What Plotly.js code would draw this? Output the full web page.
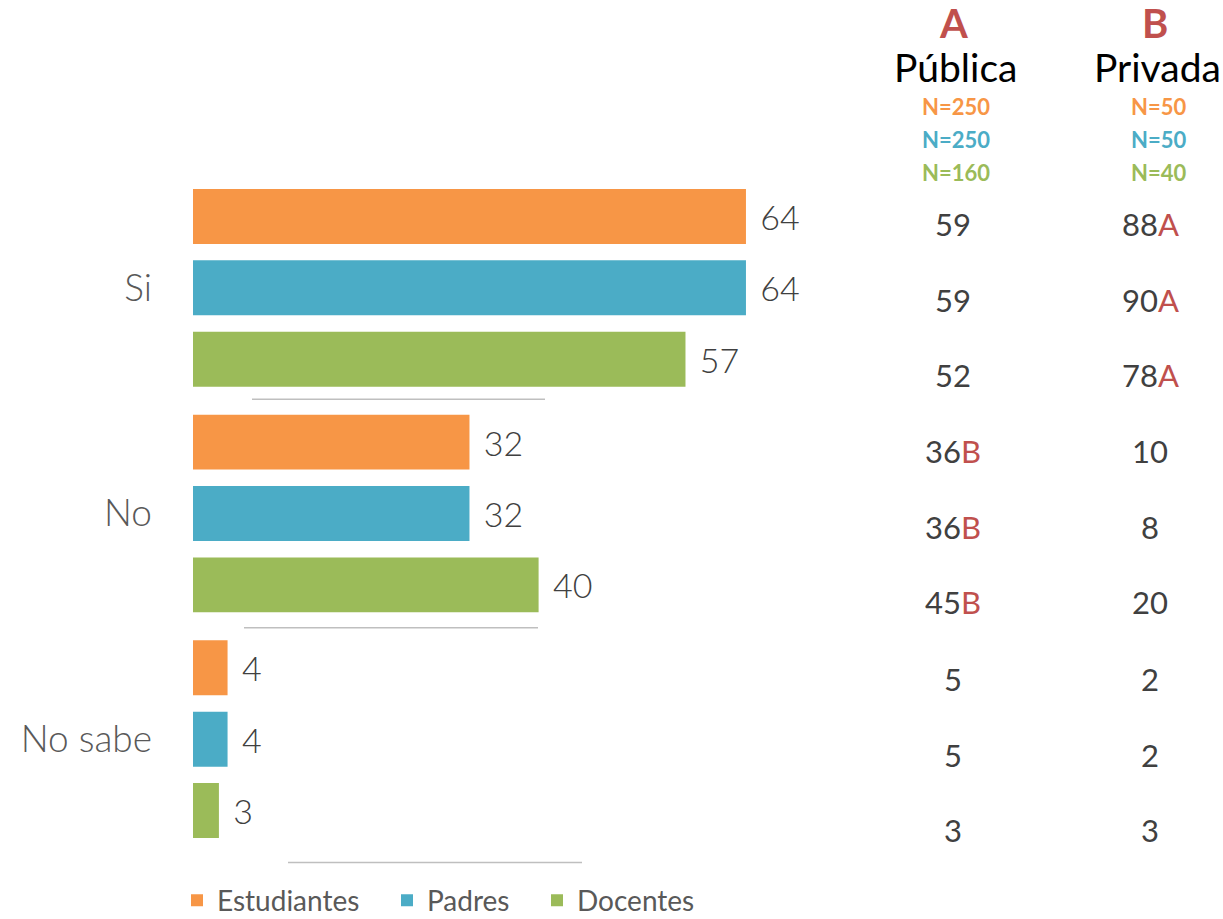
<!DOCTYPE html>
<html>
<head>
<meta charset="utf-8">
<script src="https://cdn.plot.ly/plotly-3.0.1.min.js"></script>
<style>html,body{margin:0;padding:0;background:#fff;}#chart{width:1223px;height:919px;}</style>
</head>
<body>
<div id="chart"></div>
<script>
const categories = ['Si', 'No', 'No sabe'];
const seriesNames = ['Estudiantes', 'Padres', 'Docentes'];
const estudiantes = [64, 32, 4];
const padres = [64, 32, 4];
const docentes = [57, 40, 3];
const seriesColors = ['#F79646', '#4BACC6', '#9BBB59'];

const headerLetters = ['A', 'B'];
const headerNames = ['Pública', 'Privada'];
const publicaN = ['N=250', 'N=250', 'N=160'];
const privadaN = ['N=50', 'N=50', 'N=40'];
const publicaVals = [59, 59, 52, 36, 36, 45, 5, 5, 3];
const publicaSig = ['', '', '', 'B', 'B', 'B', '', '', ''];
const privadaVals = [88, 90, 78, 10, 8, 20, 2, 2, 3];
const privadaSig = ['A', 'A', 'A', '', '', '', '', '', ''];

const W = 1223, H = 919;
const mL = 193, mR = 0, mT = 174.5, mB = 66.5;
const plotW = W - mL - mR, plotH = H - mT - mB;
const px2x = p => (p - mL) / plotW;
const py2y = p => (H - mB - p) / plotH;

const FONT = 'Lato, "Open Sans", sans-serif';
const RED = '#C0504D';

const legendIds = ['legend', 'legend2', 'legend3'];
const legendX = [177, 387, 537];

const allSeries = [estudiantes, padres, docentes];
const traces = allSeries.map((vals, i) => ({
  type: 'bar',
  orientation: 'h',
  name: seriesNames[i],
  legend: legendIds[i],
  y: categories,
  x: vals,
  marker: {color: seriesColors[i]},
  text: vals.map(v => '\u00a0\u200a' + v),
  textposition: 'outside',
  cliponaxis: false,
  textfont: {family: FONT, size: 34, color: '#404040', weight: 300},
  hoverinfo: 'none'
}));

const annotations = [];
const colX = [953, 1150];
const headX = [955, 1157];
headerLetters.forEach((l, i) => {
  annotations.push({xref: 'paper', yref: 'paper', x: px2x(headX[i] - 2), y: py2y(22),
    text: '<b>' + l + '</b>', showarrow: false, xanchor: 'center', yanchor: 'middle',
    font: {family: FONT, size: 40, color: RED}});
  annotations.push({xref: 'paper', yref: 'paper', x: px2x(headX[i]), y: py2y(66),
    text: headerNames[i], showarrow: false, xanchor: 'center', yanchor: 'middle',
    font: {family: FONT, size: 39, color: '#000000'}});
});
const nRowsY = [106, 139, 172];
[publicaN, privadaN].forEach((arr, c) => {
  arr.forEach((t, r) => {
    annotations.push({xref: 'paper', yref: 'paper', x: px2x(colX[c] + (c === 1 ? 8 : 3)), y: py2y(nRowsY[r]),
      text: '<b>' + t + '</b>', showarrow: false, xanchor: 'center', yanchor: 'middle',
      font: {family: FONT, size: 22, color: seriesColors[r]}});
  });
});
const rowY = [224, 300, 375, 451, 527, 602, 679, 755, 830];
[[publicaVals, publicaSig], [privadaVals, privadaSig]].forEach(([vals, sig], c) => {
  vals.forEach((v, r) => {
    const s = sig[r] ? '<span style="color:' + RED + '">' + sig[r] + '</span>' : '';
    annotations.push({xref: 'paper', yref: 'paper', x: px2x(colX[c]), y: py2y(rowY[r]),
      text: v + s, showarrow: false, xanchor: 'center', yanchor: 'middle',
      font: {family: FONT, size: 31, color: '#404040'}});
  });
});

const sepLines = [[252, 545, 399], [244, 538, 628], [288, 582, 863]];
const shapes = sepLines.map(([x0, x1, y]) => ({
  type: 'line', xref: 'paper', yref: 'paper',
  x0: px2x(x0), x1: px2x(x1), y0: py2y(y), y1: py2y(y),
  line: {color: '#BFBFBF', width: 1.5}
}));

const layout = {
  width: W, height: H,
  margin: {l: mL, r: mR, t: mT, b: mB, pad: 0, autoexpand: false},
  paper_bgcolor: '#ffffff', plot_bgcolor: 'rgba(0,0,0,0)',
  barmode: 'group',
  bargap: 0.051,
  bargroupgap: 0.23,
  showlegend: true,
  xaxis: {range: [0, plotW / 8.64], visible: false, fixedrange: true},
  yaxis: {type: 'category', autorange: 'reversed', showgrid: false, zeroline: false, showline: false,
    ticks: '', ticklabelstandoff: 40,
    tickfont: {family: FONT, size: 37, color: '#595959', weight: 300}},
  annotations: annotations,
  shapes: shapes,
  font: {family: FONT}
};
legendIds.forEach((id, i) => {
  layout[id] = {orientation: 'h', x: px2x(legendX[i]), y: py2y(901), xanchor: 'left', yanchor: 'middle',
    font: {family: FONT, size: 28, color: '#595959'}, itemwidth: 30, bgcolor: 'rgba(0,0,0,0)'};
});

Plotly.newPlot('chart', traces, layout, {displayModeBar: false, staticPlot: true});
</script>
</body>
</html>
